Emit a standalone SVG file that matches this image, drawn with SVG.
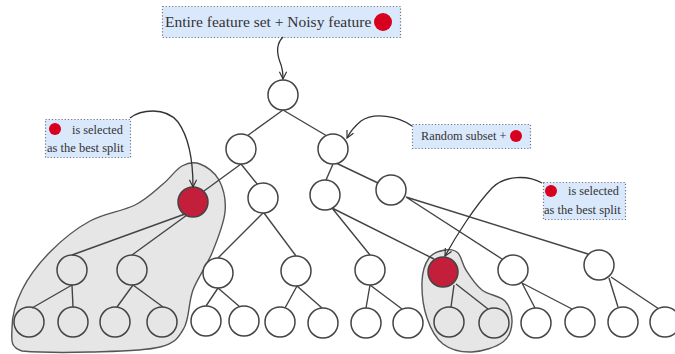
<svg xmlns="http://www.w3.org/2000/svg" width="675" height="354" viewBox="0 0 675 354">
  <style>
    .blob { fill: #e6e6e6; stroke: #555; stroke-width: 1.4; }
    .edge { fill: none; stroke: #444; stroke-width: 1.4; }
    .node { fill: #fff; stroke: #444; stroke-width: 1.5; }
    .inner { fill: none; }
    .sel { fill: #c41f3a; stroke: #444; stroke-width: 1.5; }
    .box { fill: #dae8fc; stroke: #6f7785; stroke-width: 1.2; stroke-dasharray: 1.2 2; }
    .lbl { font-family: "Liberation Serif", "Times New Roman", serif; fill: #333; }
    .dot { fill: #d8001f; }
    .call { fill: none; stroke: #333; stroke-width: 1.3; marker-end: url(#open); }
  </style>
  <defs>
    <marker id="open" viewBox="0 0 10 10" refX="9" refY="5" markerWidth="9" markerHeight="9" markerUnits="userSpaceOnUse" orient="auto">
      <path d="M1,1 L9,5 L1,9" fill="none" stroke="#333" stroke-width="1.3"/>
    </marker>
  </defs>

  <!-- shaded sub-trees -->
  <g id="subtree-left">
    <path class="blob" d="M200,164 C206.2,166.3 214.8,172 219,180 C223.2,188 226.2,199.8 225,212 C223.8,224.2 217.3,240 212,253 C206.7,266 197.7,277.5 193,290 C188.3,302.5 189.5,318.5 184,328 C178.5,337.5 175.7,342.8 160,347 C144.3,351.2 113,351.3 90,352 C67,352.7 34,352 22,351 C9,347 12,338.3 12,328 C12,317.7 15.7,302.7 22,290 C28.3,277.3 38.7,263.5 50,252 C61.3,240.5 75.8,228.8 90,221 C104.2,213.2 122.8,211.2 135,205 C147.2,198.8 155.2,190.5 163,184 C170.8,177.5 175.8,169.3 182,166 C188.2,162.7 193.8,161.7 200,164 Z"/>
  </g>
  <g id="subtree-right">
    <path class="blob" d="M445,250 C449.8,249.2 454.5,249.7 458,253 C461.5,256.3 462,263.8 466,270 C470,276.2 475.5,284.8 482,290 C488.5,295.2 500,295.7 505,301 C510,306.3 512.3,315.2 512,322 C511.7,328.8 509.7,337 503,342 C496.3,347 482,351.7 472,352 C462,352.3 450.5,349.7 443,344 C435.5,338.3 430.5,328.3 427,318 C423.5,307.7 421.7,292 422,282 C422.3,272 425.2,263.3 429,258 C432.8,252.7 440.2,250.8 445,250 Z"/>
  </g>

  <!-- tree connectors -->
  <g id="connectors" class="edge">
    <path d="M283,110 L247,136 M283,110 L327,136"/>
    <path d="M241,164 L204,191 M241,164 L258,185"/>
    <path d="M333,164 L326,180 M336,163 L378,183"/>
    <path d="M185,214 L72,255 M187,215 L132,255"/>
    <path d="M263,213 L218,258 M264,213 L296,256"/>
    <path d="M332,208 L370,255 M332,208 L434,259"/>
    <path d="M406,197 L502,259 M406,197 L588,254"/>
    <path d="M72,285 L32,308 M72,285 L73,307"/>
    <path d="M133,285 L117,307 M133,285 L163,307"/>
    <path d="M218,288 L206,306 M218,288 L240,307"/>
    <path d="M297,286 L285,308 M297,286 L322,308"/>
    <path d="M370,285 L366,308 M370,285 L402,309"/>
    <path d="M454,285 L451,307 M456,284 L488,309"/>
    <path d="M522,283 L535,308 M522,283 L572,309"/>
    <path d="M609,278 L618,307 M611,277 L659,309"/>
  </g>

  <!-- nodes -->
  <g id="n-root"><circle class="node" cx="283" cy="95" r="15"/></g>
  <g id="n-a"><circle class="node" cx="241" cy="149" r="15"/></g>
  <g id="n-b"><circle class="node" cx="333" cy="149" r="15"/></g>
  <g id="n-aa"><circle class="sel" cx="193" cy="202" r="15"/></g>
  <g id="n-ab"><circle class="node" cx="263" cy="198" r="15"/></g>
  <g id="n-ba"><circle class="node" cx="325" cy="195" r="15"/></g>
  <g id="n-bb"><circle class="node" cx="391" cy="190" r="15"/></g>
  <g id="n-aaa"><circle class="node inner" cx="72" cy="270" r="15"/></g>
  <g id="n-aab"><circle class="node inner" cx="132" cy="270" r="15"/></g>
  <g id="n-aba"><circle class="node" cx="218" cy="273" r="15"/></g>
  <g id="n-abb"><circle class="node" cx="296" cy="271" r="15"/></g>
  <g id="n-baa"><circle class="node" cx="370" cy="270" r="15"/></g>
  <g id="n-bab"><circle class="sel" cx="443" cy="272" r="15"/></g>
  <g id="n-bba"><circle class="node" cx="513" cy="270" r="15"/></g>
  <g id="n-bbb"><circle class="node" cx="599" cy="265" r="15"/></g>
  <g id="n-aaaa"><circle class="node inner" cx="29" cy="322" r="15"/></g>
  <g id="n-aaab"><circle class="node inner" cx="73" cy="322" r="15"/></g>
  <g id="n-aaba"><circle class="node inner" cx="115" cy="322" r="15"/></g>
  <g id="n-aabb"><circle class="node inner" cx="162" cy="322" r="15"/></g>
  <g id="n-abaa"><circle class="node" cx="206" cy="321" r="15"/></g>
  <g id="n-abab"><circle class="node" cx="244" cy="321" r="15"/></g>
  <g id="n-abba"><circle class="node" cx="280" cy="322" r="15"/></g>
  <g id="n-abbb"><circle class="node" cx="323" cy="323" r="15"/></g>
  <g id="n-baaa"><circle class="node" cx="366" cy="323" r="15"/></g>
  <g id="n-baab"><circle class="node" cx="408" cy="323" r="15"/></g>
  <g id="n-baba"><circle class="node inner" cx="449" cy="322" r="15"/></g>
  <g id="n-babb"><circle class="node inner" cx="494" cy="323" r="15"/></g>
  <g id="n-bbaa"><circle class="node" cx="536" cy="323" r="15"/></g>
  <g id="n-bbab"><circle class="node" cx="580" cy="322" r="15"/></g>
  <g id="n-bbba"><circle class="node" cx="623" cy="322" r="15"/></g>
  <g id="n-bbbb"><circle class="node" cx="665" cy="322" r="15"/></g>

  <!-- annotations -->
  <g id="label-top">
    <rect class="box" x="162.5" y="6.5" width="238" height="31"/>
    <text class="lbl" x="165" y="26.5" font-size="15.5">Entire feature set + Noisy feature</text>
    <circle class="dot" cx="383" cy="22" r="9"/>
  </g>
  <g id="label-left">
    <rect class="box" x="45.5" y="119.5" width="85" height="38"/>
    <circle class="dot" cx="55" cy="129" r="6"/>
    <text class="lbl" x="72" y="134" font-size="12.3">is selected</text>
    <text class="lbl" x="47" y="152" font-size="12.5">as the best split</text>
  </g>
  <g id="label-subset">
    <rect class="box" x="412.5" y="124.5" width="118" height="24"/>
    <text class="lbl" x="421" y="140" font-size="12.3">Random subset +</text>
    <circle class="dot" cx="516" cy="136" r="6"/>
  </g>
  <g id="label-right">
    <rect class="box" x="543.5" y="182.5" width="82" height="37"/>
    <circle class="dot" cx="551" cy="191" r="6"/>
    <text class="lbl" x="568" y="195" font-size="12.3">is selected</text>
    <text class="lbl" x="544" y="214" font-size="12.5">as the best split</text>
  </g>

  <!-- callout arrows -->
  <g id="callouts">
    <path class="call" d="M283,37 C276,44 277,54 280,62 C283,69 283,73 283,79"/>
    <path class="call" d="M130,118 C140,110 165,106 178,122 C188,136 193,160 193,187"/>
    <path class="call" d="M412,126 C398,116 374,112 361,121 C355,126 350,132 347,138"/>
    <path class="call" d="M542,183 C528,175 505,175 492,188 C475,206 456,236 445,256"/>
  </g>
</svg>
